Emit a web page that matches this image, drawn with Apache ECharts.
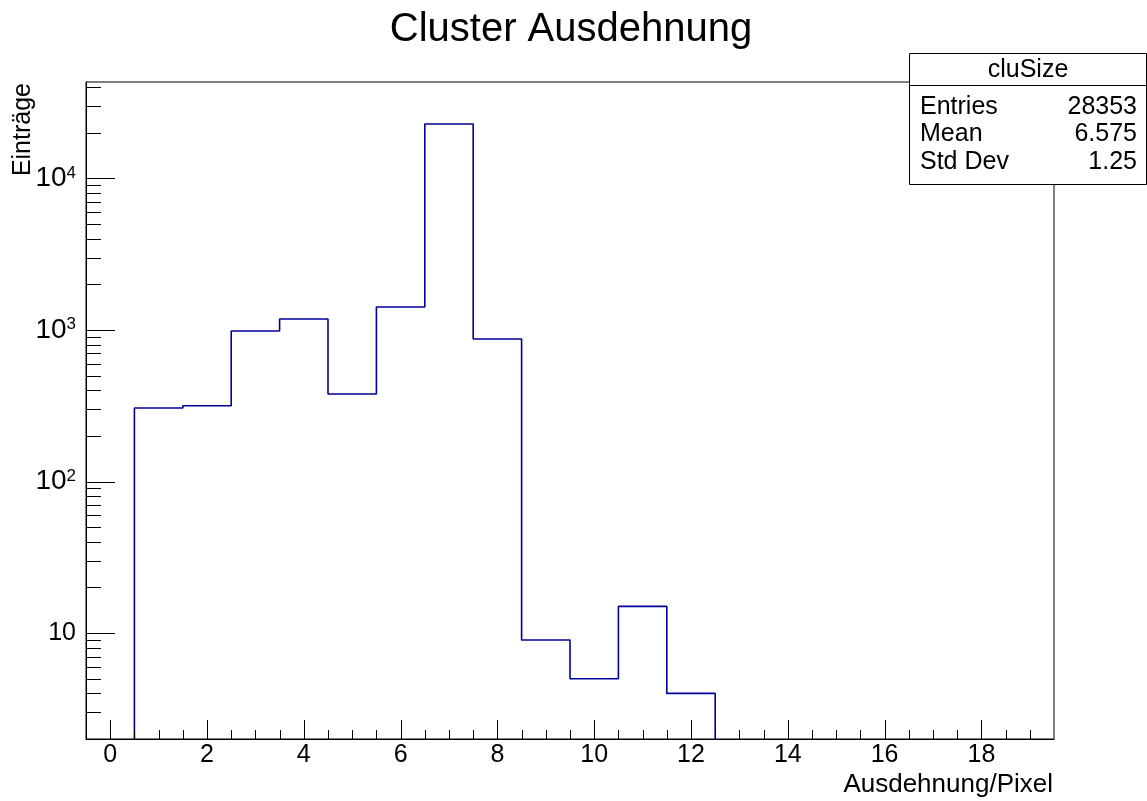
<!DOCTYPE html>
<html>
<head>
<meta charset="utf-8">
<script src="https://cdn.jsdelivr.net/npm/echarts@6/dist/echarts.min.js"></script>
<style>
html,body{margin:0;padding:0;background:#fff;}
#chart{width:1147px;height:801px;}
</style>
</head>
<body>
<div id="chart"></div>
<script>
// ---- data ----
var binLowEdges = [0.5, 1.5, 2.5, 3.5, 4.5, 5.5, 6.5, 7.5, 8.5, 9.5, 10.5, 11.5];
var binCounts   = [306, 316, 985, 1182, 378, 1418, 22860, 872, 9, 5, 15, 4];
var binWidth = 1;
var xLabelValues = [0, 2, 4, 6, 8, 10, 12, 14, 16, 18];
var yLabelValues = [10, 100, 1000, 10000];
var statsTitle = 'cluSize';
var statsNames = ['Entries', 'Mean', 'Std Dev'];
var statsValues = ['28353', '6.575', '1.25'];

var xMin = -0.5, xMax = 19.5;
var yMin = 2, yMax = 43300;

// step outline points
var outline = [[binLowEdges[0], 1]];
for (var i = 0; i < binLowEdges.length; i++) outline.push([binLowEdges[i], binCounts[i]]);
outline.push([binLowEdges[binLowEdges.length - 1] + binWidth, 1]);

// tick marks (axis decoration)
var ticks = [];
for (var k = 0; k <= 40; k++) {
  var xv = xMin + k * 0.5;
  if (xv <= xMin || xv >= xMax) continue;
  var major = xLabelValues.indexOf(xv) >= 0;
  ticks.push([xv, yMin, 0, major ? 1 : 0]);
}
for (var e = 0; e <= 4; e++) {
  for (var m = 1; m <= 9; m++) {
    var yv = m * Math.pow(10, e);
    if (yv <= yMin * 0.999 || yv >= yMax) continue;
    ticks.push([xMin, yv, 1, m === 1 ? 1 : 0]);
  }
}

var FONT = '"Liberation Sans", Arial, Helvetica, sans-serif';
var chart = echarts.init(document.getElementById('chart'));

chart.setOption({
  animation: false,
  backgroundColor: '#ffffff',
  textStyle: { fontFamily: FONT, color: '#000' },
  grid: { left: 86, right: 93, top: 82, bottom: 62, show: true, borderColor: '#000', borderWidth: 1 },
  xAxis: {
    type: 'value', min: xMin, max: xMax,
    axisLine: { show: true, onZero: false, lineStyle: { color: '#000', width: 1 } },
    axisTick: { show: false },
    splitLine: { show: false },
    axisLabel: {
      customValues: xLabelValues,
      color: '#000', fontFamily: FONT, fontSize: 25, margin: 4
    }
  },
  yAxis: {
    type: 'log', min: yMin, max: yMax, logBase: 10,
    axisLine: { show: true, onZero: false, lineStyle: { color: '#000', width: 1 } },
    axisTick: { show: false },
    splitLine: { show: false },
    minorTick: { show: false },
    axisLabel: {
      customValues: yLabelValues,
      color: '#000', margin: 10,
      formatter: function (v) {
        if (v < 50) return '{b10|10}';
        return '{base|10}{sup|' + Math.round(Math.log10(v)) + '}';
      },
      rich: {
        b10: { fontSize: 25, fontFamily: FONT, color: '#000' },
        base: { fontSize: 28, fontFamily: FONT, color: '#000' },
        sup: { fontSize: 17, fontFamily: FONT, color: '#000', verticalAlign: 'top' }
      }
    }
  },
  series: [
    {
      type: 'line', step: 'end', data: outline, symbol: 'none', clip: true,
      lineStyle: { color: '#000099', width: 1.6 }, silent: true, z: 3
    },
    {
      type: 'custom', data: ticks, clip: false, silent: true, z: 4,
      renderItem: function (params, api) {
        var p = api.coord([api.value(0), api.value(1)]);
        var dir = api.value(2), major = api.value(3);
        var x, y;
        if (dir === 0) {
          var len = major ? 19 : 9;
          x = Math.round(p[0]) + 0.5; y = p[1];
          return { type: 'line', shape: { x1: x, y1: y, x2: x, y2: y - len },
                   style: { stroke: '#000', lineWidth: 1 } };
        } else {
          var len2 = major ? 29 : 15;
          x = p[0]; y = Math.round(p[1]) + 0.5;
          return { type: 'line', shape: { x1: x, y1: y, x2: x + len2, y2: y },
                   style: { stroke: '#000', lineWidth: 1 } };
        }
      }
    }
  ],
  graphic: [
    { type: 'text', x: 571, y: 30, style: { text: 'Cluster Ausdehnung', font: '40px ' + FONT, fill: '#000', textAlign: 'center', textVerticalAlign: 'middle' } },
    { type: 'text', x: 23, y: 83, rotation: Math.PI / 2, style: { text: 'Einträge', font: '25px ' + FONT, fill: '#000', textAlign: 'right', textVerticalAlign: 'middle' } },
    { type: 'text', x: 1053, y: 785, style: { text: 'Ausdehnung/Pixel', font: '26px ' + FONT, fill: '#000', textAlign: 'right', textVerticalAlign: 'middle' } },
    { type: 'rect', shape: { x: 909.5, y: 53.5, width: 237, height: 131 }, style: { fill: '#fff', stroke: '#000', lineWidth: 1 }, z: 10 },
    { type: 'line', shape: { x1: 909.5, y1: 85.5, x2: 1147, y2: 85.5 }, style: { stroke: '#000', lineWidth: 1 }, z: 11 },
    { type: 'text', x: 1028, y: 70, z: 11, style: { text: statsTitle, font: '25px ' + FONT, fill: '#000', textAlign: 'center', textVerticalAlign: 'middle' } },
    { type: 'text', x: 920, y: 107, z: 11, style: { text: statsNames[0], font: '25px ' + FONT, fill: '#000', textAlign: 'left', textVerticalAlign: 'middle' } },
    { type: 'text', x: 920, y: 134, z: 11, style: { text: statsNames[1], font: '25px ' + FONT, fill: '#000', textAlign: 'left', textVerticalAlign: 'middle' } },
    { type: 'text', x: 920, y: 162, z: 11, style: { text: statsNames[2], font: '25px ' + FONT, fill: '#000', textAlign: 'left', textVerticalAlign: 'middle' } },
    { type: 'text', x: 1137, y: 107, z: 11, style: { text: statsValues[0], font: '25px ' + FONT, fill: '#000', textAlign: 'right', textVerticalAlign: 'middle' } },
    { type: 'text', x: 1137, y: 134, z: 11, style: { text: statsValues[1], font: '25px ' + FONT, fill: '#000', textAlign: 'right', textVerticalAlign: 'middle' } },
    { type: 'text', x: 1137, y: 162, z: 11, style: { text: statsValues[2], font: '25px ' + FONT, fill: '#000', textAlign: 'right', textVerticalAlign: 'middle' } }
  ]
});
</script>
</body>
</html>
